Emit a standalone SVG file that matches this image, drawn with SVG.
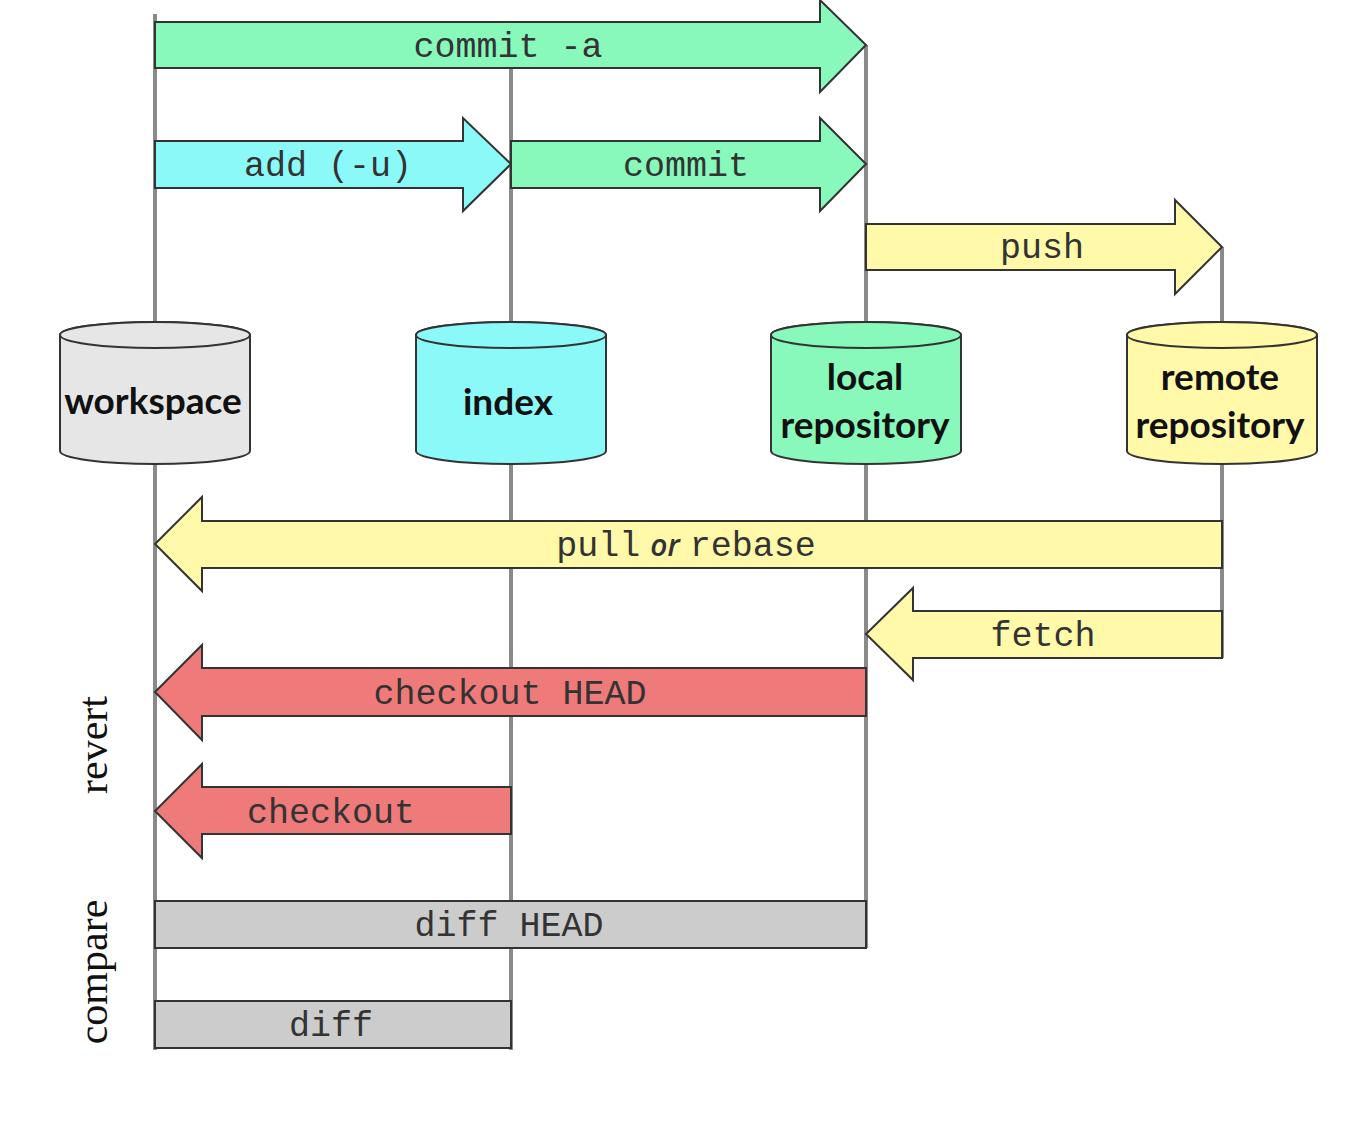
<svg xmlns="http://www.w3.org/2000/svg" width="1366" height="1140" viewBox="0 0 1366 1140">
<style>
.bg{fill:#ffffff}
.vl{stroke:#8a8a8a;stroke-width:4;fill:none}
.box{stroke:#333333;stroke-width:2;stroke-linejoin:miter}
.green{fill:#88f8bb}
.cyan{fill:#8cf9f9}
.yellow{fill:#fff9a9}
.red{fill:#ef7a7a}
.gray{fill:#cccccc}
.ws{fill:#e6e6e6}
.lbl{font-family:"Liberation Mono","DejaVu Sans Mono",monospace;font-size:35px;fill:#333333;text-anchor:middle}
.or{font-family:"Open Sans","DejaVu Sans",sans-serif;font-style:italic;font-weight:600;font-size:30px}
.cyl{font-family:Lato,"Open Sans",sans-serif;font-weight:700;font-size:37px;fill:#111111;text-anchor:middle}
.side{font-family:"Liberation Serif","DejaVu Serif",serif;font-size:42px;fill:#111111;text-anchor:middle}
</style>
<rect class="bg" x="0" y="0" width="1366" height="1140"/>
<g id="connectors">
<line class="vl" x1="155" y1="14" x2="155" y2="1050"/>
<line class="vl" x1="511" y1="66" x2="511" y2="1050"/>
<line class="vl" x1="866" y1="45" x2="866" y2="948"/>
<line class="vl" x1="1222" y1="247" x2="1222" y2="658"/>
</g>
<g id="commit-a">
<polygon class="box green" points="155,22 820,22 820,0 866,45 820,92 820,68 155,68"/>
<text class="lbl" x="508" y="57">commit -a</text>
</g>
<g id="add">
<polygon class="box cyan" points="155,141 463,141 463,118 511,164 463,211 463,188 155,188"/>
<text class="lbl" x="328" y="176">add (-u)</text>
</g>
<g id="commit">
<polygon class="box green" points="511,141 820,141 820,118 866,164 820,211 820,188 511,188"/>
<text class="lbl" x="686" y="176">commit</text>
</g>
<g id="push">
<polygon class="box yellow" points="866,224 1175,224 1175,200 1222,247 1175,294 1175,270 866,270"/>
<text class="lbl" x="1042" y="258">push</text>
</g>
<g id="workspace">
<path class="box ws" d="M60,335 A95,13 0 0 1 250,335 L250,451 A95,13 0 0 1 60,451 Z"/>
<ellipse class="box ws" cx="155" cy="335" rx="95" ry="13"/>
<text class="cyl" x="153" y="414">workspace</text>
</g>
<g id="index">
<path class="box cyan" d="M416,335 A95,13 0 0 1 606,335 L606,451 A95,13 0 0 1 416,451 Z"/>
<ellipse class="box cyan" cx="511" cy="335" rx="95" ry="13"/>
<text class="cyl" x="508" y="415">index</text>
</g>
<g id="local-repository">
<path class="box green" d="M771,335 A95,13 0 0 1 961,335 L961,451 A95,13 0 0 1 771,451 Z"/>
<ellipse class="box green" cx="866" cy="335" rx="95" ry="13"/>
<text class="cyl" x="865" y="390">local</text>
<text class="cyl" x="865" y="438">repository</text>
</g>
<g id="remote-repository">
<path class="box yellow" d="M1127,335 A95,13 0 0 1 1317,335 L1317,451 A95,13 0 0 1 1127,451 Z"/>
<ellipse class="box yellow" cx="1222" cy="335" rx="95" ry="13"/>
<text class="cyl" x="1220" y="390">remote</text>
<text class="cyl" x="1220" y="438">repository</text>
</g>
<g id="pull-rebase">
<polygon class="box yellow" points="1222,521 202,521 202,497 155,544 202,591 202,568 1222,568"/>
<text class="lbl" x="686" y="556">pull<tspan class="or" dx="10">or</tspan><tspan dx="10">rebase</tspan></text>
</g>
<g id="fetch">
<polygon class="box yellow" points="1222,611 913,611 913,588 866,634 913,680 913,658 1222,658"/>
<text class="lbl" x="1043" y="646">fetch</text>
</g>
<g id="checkout-head">
<polygon class="box red" points="866,668 202,668 202,645 155,692 202,740 202,716 866,716"/>
<text class="lbl" x="510" y="704">checkout HEAD</text>
</g>
<g id="checkout">
<polygon class="box red" points="511,787 202,787 202,764 155,811 202,858 202,834 511,834"/>
<text class="lbl" x="331" y="823">checkout</text>
</g>
<g id="diff-head">
<rect class="box gray" x="155" y="901" width="711" height="47"/>
<text class="lbl" x="509" y="936">diff HEAD</text>
</g>
<g id="diff">
<rect class="box gray" x="155" y="1001" width="356" height="47"/>
<text class="lbl" x="331" y="1036">diff</text>
</g>
<g id="labels">
<text class="side" transform="translate(107,745) rotate(-90)">revert</text>
<text class="side" transform="translate(107,972) rotate(-90)">compare</text>
</g>
</svg>
